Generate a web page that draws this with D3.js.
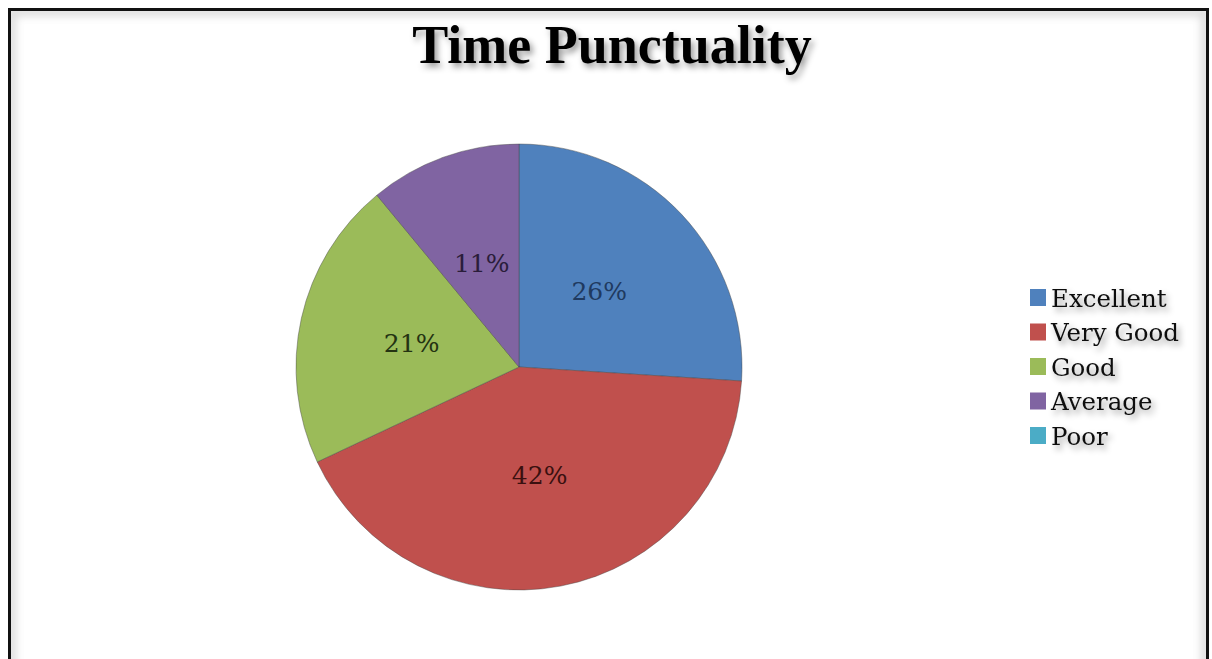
<!DOCTYPE html>
<html>
<head>
<meta charset="utf-8">
<script src="https://cdn.jsdelivr.net/npm/d3@7"></script>
<style>
  body { margin: 0; background: #fff; }
  svg { display: block; }
</style>
</head>
<body>
<svg id="chart"></svg>
<script>
// chart values
const categories = ["Excellent", "Very Good", "Good", "Average", "Poor"];
const values = [26, 42, 21, 11, 0];
const sliceColors = ["#4f81bd", "#c0504d", "#9bbb59", "#8064a2", "#4bacc6"];
const labelColors = ["#1f3a60", "#3a1010", "#243312", "#2a1d3a", "#1c3f48"];
const title = "Time Punctuality";

const svgWidth = 1212, svgHeight = 659;
const cx = 519, cy = 367, radius = 223;

const svg = d3.select("#chart")
  .attr("width", svgWidth)
  .attr("height", svgHeight);

const defs = svg.append("defs");

// soft drop shadow for the texts
const shadow = defs.append("filter")
  .attr("id", "txtShadow")
  .attr("x", "-20%").attr("y", "-40%")
  .attr("width", "140%").attr("height", "180%");
shadow.append("feDropShadow")
  .attr("dx", 3).attr("dy", 4)
  .attr("stdDeviation", 3)
  .attr("flood-color", "#000")
  .attr("flood-opacity", 0.4);

// inner glow of the frame
const blur = defs.append("filter").attr("id", "frameBlur");
blur.append("feGaussianBlur").attr("stdDeviation", 4);
defs.append("clipPath").attr("id", "frameClip")
  .append("rect")
  .attr("x", 10).attr("y", 10)
  .attr("width", 1197).attr("height", 660);

svg.append("rect")
  .attr("x", 0).attr("y", 0)
  .attr("width", svgWidth).attr("height", svgHeight)
  .attr("fill", "#fff");

svg.append("g")
  .attr("clip-path", "url(#frameClip)")
  .append("rect")
  .attr("x", 12).attr("y", 12)
  .attr("width", 1193).attr("height", 660)
  .attr("fill", "none")
  .attr("stroke", "#d4d4d4")
  .attr("stroke-width", 7)
  .attr("filter", "url(#frameBlur)");

// outer black frame
svg.append("rect")
  .attr("x", 9.5).attr("y", 9.5)
  .attr("width", 1198).attr("height", 670)
  .attr("fill", "none")
  .attr("stroke", "#111")
  .attr("stroke-width", 3);

// title
svg.append("text")
  .attr("x", 612)
  .attr("y", 63)
  .attr("text-anchor", "middle")
  .attr("font-family", "'Liberation Serif', serif")
  .attr("font-weight", "bold")
  .attr("font-size", 54)
  .attr("fill", "#000")
  .attr("filter", "url(#txtShadow)")
  .text(title);

// pie
const data = categories.map((c, i) => ({ name: c, value: values[i], color: sliceColors[i], lab: labelColors[i] }));

const pie = d3.pie()
  .sort(null)
  .value(d => d.value);

const arc = d3.arc()
  .innerRadius(0)
  .outerRadius(radius);

const labelArc = d3.arc()
  .innerRadius(110)
  .outerRadius(110);

const g = svg.append("g")
  .attr("transform", "translate(" + cx + "," + cy + ")");

const arcs = pie(data).filter(d => d.data.value > 0);

g.selectAll("path")
  .data(arcs)
  .enter()
  .append("path")
  .attr("d", arc)
  .attr("fill", d => d.data.color)
  .attr("stroke", "rgba(70,70,70,0.55)")
  .attr("stroke-width", 0.8);

g.selectAll("text.pct")
  .data(arcs)
  .enter()
  .append("text")
  .attr("class", "pct")
  .attr("transform", d => "translate(" + labelArc.centroid(d) + ")")
  .attr("text-anchor", "middle")
  .attr("dy", "0.35em")
  .attr("font-family", "'DejaVu Serif', serif")
  .attr("font-size", 25)
  .attr("fill", d => d.data.lab)
  .text(d => d3.format(".0f")(d.data.value) + "%");

// legend
const legend = svg.append("g")
  .attr("transform", "translate(1030,298)");

const rows = legend.selectAll("g")
  .data(data)
  .enter()
  .append("g")
  .attr("transform", (d, i) => "translate(0," + (i * 34.5) + ")");

rows.append("rect")
  .attr("x", 0).attr("y", -9)
  .attr("width", 16).attr("height", 17)
  .attr("fill", d => d.color);

rows.append("text")
  .attr("x", 21)
  .attr("dy", "0.36em")
  .attr("font-family", "'DejaVu Serif', serif")
  .attr("font-size", 24.5)
  .attr("fill", "#111")
  .attr("filter", "url(#txtShadow)")
  .text(d => d.name);
</script>
</body>
</html>
